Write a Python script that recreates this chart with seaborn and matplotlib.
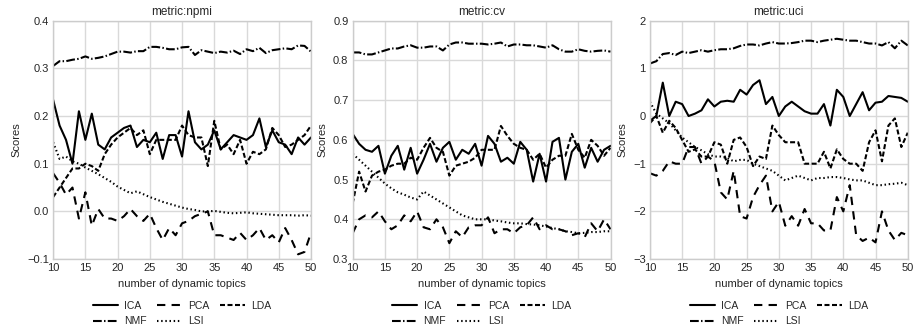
import numpy as np
import pandas as pd
import seaborn as sns
import matplotlib.pyplot as plt

topics = list(range(10, 51))
models = ["ICA", "NMF", "PCA", "LSI", "LDA"]

# metric: npmi
npmi_ica = [0.234, 0.18, 0.15, 0.10, 0.21, 0.15, 0.205, 0.14, 0.13, 0.155, 0.165,
            0.175, 0.18, 0.135, 0.15, 0.145, 0.165, 0.11, 0.16, 0.16, 0.115,
            0.21, 0.145, 0.13, 0.14, 0.17, 0.13, 0.145, 0.16, 0.155, 0.15,
            0.16, 0.195, 0.135, 0.17, 0.145, 0.14, 0.12, 0.155, 0.14, 0.155]
npmi_lda = [0.03, 0.05, 0.07, 0.09, 0.09, 0.10, 0.095, 0.085, 0.12, 0.14, 0.155,
            0.165, 0.175, 0.16, 0.17, 0.12, 0.15, 0.15, 0.15, 0.15, 0.18,
            0.16, 0.155, 0.155, 0.095, 0.19, 0.13, 0.14, 0.12, 0.15, 0.10,
            0.125, 0.12, 0.13, 0.175, 0.16, 0.135, 0.14, 0.15, 0.16, 0.18]
npmi_pca = [0.08, 0.06, 0.035, 0.05, -0.015, 0.04, -0.03, 0.005, -0.015, -0.015, -0.02,
            -0.01, 0.005, -0.01, -0.02, -0.005, -0.035, -0.06, -0.035, -0.05, -0.025,
            -0.02, -0.01, -0.005, 0.0, -0.05, -0.05, -0.055, -0.06, -0.045, -0.06,
            -0.05, -0.035, -0.06, -0.05, -0.065, -0.035, -0.06, -0.09, -0.085, -0.045]
npmi_nmf = [0.305, 0.315, 0.315, 0.318, 0.32, 0.325, 0.32, 0.322, 0.325, 0.33, 0.335,
            0.335, 0.333, 0.336, 0.336, 0.345, 0.345, 0.343, 0.34, 0.34, 0.344,
            0.345, 0.328, 0.338, 0.335, 0.332, 0.335, 0.333, 0.337, 0.33, 0.34,
            0.336, 0.343, 0.332, 0.338, 0.34, 0.342, 0.34, 0.348, 0.347, 0.335]
npmi_lsi = [0.145, 0.11, 0.115, 0.105, 0.10, 0.092, 0.085, 0.078, 0.07, 0.062, 0.052,
            0.045, 0.038, 0.042, 0.036, 0.03, 0.025, 0.02, 0.016, 0.012, 0.008,
            0.005, 0.003, 0.0, 0.0, 0.001, -0.001, -0.003, -0.004, -0.003, -0.002,
            -0.004, -0.005, -0.006, -0.007, -0.008, -0.008, -0.008, -0.009, -0.008, -0.009]

# metric: cv
cv_ica = [0.615, 0.59, 0.575, 0.57, 0.585, 0.515, 0.56, 0.585, 0.525, 0.58, 0.515,
          0.55, 0.59, 0.545, 0.58, 0.595, 0.55, 0.575, 0.565, 0.59, 0.535,
          0.61, 0.59, 0.545, 0.555, 0.54, 0.595, 0.575, 0.495, 0.565, 0.495,
          0.595, 0.605, 0.5, 0.57, 0.59, 0.53, 0.58, 0.545, 0.575, 0.585]
cv_lda = [0.44, 0.52, 0.47, 0.51, 0.52, 0.525, 0.535, 0.54, 0.54, 0.555, 0.55,
          0.58, 0.605, 0.58, 0.57, 0.51, 0.535, 0.54, 0.545, 0.555, 0.575,
          0.575, 0.575, 0.635, 0.61, 0.59, 0.58, 0.575, 0.55, 0.565, 0.53,
          0.55, 0.56, 0.56, 0.615, 0.575, 0.555, 0.6, 0.585, 0.56, 0.58]
cv_pca = [0.365, 0.40, 0.41, 0.405, 0.42, 0.395, 0.375, 0.385, 0.41, 0.395, 0.42,
          0.38, 0.375, 0.40, 0.38, 0.34, 0.37, 0.355, 0.38, 0.385, 0.385,
          0.405, 0.365, 0.375, 0.375, 0.365, 0.38, 0.385, 0.405, 0.375, 0.385,
          0.375, 0.375, 0.37, 0.36, 0.365, 0.355, 0.39, 0.37, 0.40, 0.375]
cv_nmf = [0.82, 0.82, 0.815, 0.815, 0.82, 0.825, 0.83, 0.83, 0.835, 0.838, 0.832,
          0.832, 0.835, 0.835, 0.825, 0.84, 0.845, 0.845, 0.842, 0.842, 0.842,
          0.84, 0.842, 0.845, 0.835, 0.84, 0.84, 0.838, 0.838, 0.835, 0.832,
          0.838, 0.828, 0.822, 0.822, 0.828, 0.824, 0.822, 0.824, 0.825, 0.822]
cv_lsi = [0.565, 0.55, 0.535, 0.52, 0.505, 0.49, 0.478, 0.468, 0.462, 0.455, 0.45,
          0.47, 0.46, 0.45, 0.44, 0.43, 0.42, 0.41, 0.405, 0.40, 0.40,
          0.40, 0.397, 0.395, 0.392, 0.39, 0.39, 0.388, 0.387, 0.385, 0.382,
          0.378, 0.375, 0.37, 0.368, 0.365, 0.366, 0.368, 0.368, 0.37, 0.37]

# metric: uci
uci_ica = [-0.1, 0.0, 0.7, 0.0, 0.3, 0.25, 0.0, 0.05, 0.12, 0.35, 0.2,
           0.3, 0.32, 0.3, 0.55, 0.45, 0.65, 0.75, 0.25, 0.4, 0.0,
           0.2, 0.3, 0.2, 0.1, 0.05, 0.05, 0.25, -0.2, 0.55, 0.4,
           0.0, 0.25, 0.5, 0.12, 0.28, 0.3, 0.42, 0.4, 0.38, 0.3]
uci_lda = [-0.15, 0.0, -0.35, -0.1, -0.25, -0.5, -0.75, -0.7, -0.85, -0.85, -0.55,
           -0.6, -1.0, -0.5, -0.45, -0.65, -1.05, -0.85, -0.9, -0.2, -0.4,
           -0.55, -0.55, -0.55, -1.0, -1.0, -1.0, -0.75, -1.1, -0.7, -0.9,
           -1.0, -1.0, -1.15, -0.55, -0.3, -0.95, -0.2, -0.05, -0.65, -0.35]
uci_pca = [-1.2, -1.25, -1.15, -0.95, -1.0, -1.0, -0.65, -0.65, -1.0, -0.85, -0.95,
           -1.6, -1.75, -1.15, -2.1, -2.15, -1.7, -1.45, -1.25, -2.0, -1.8,
           -2.3, -2.1, -2.3, -1.95, -2.25, -2.25, -2.4, -2.4, -1.7, -2.0,
           -1.45, -2.5, -2.62, -2.55, -2.65, -2.0, -2.4, -2.6, -2.45, -2.5]
uci_nmf = [1.1, 1.15, 1.3, 1.32, 1.28, 1.35, 1.32, 1.35, 1.38, 1.35, 1.38,
           1.4, 1.4, 1.42, 1.47, 1.5, 1.5, 1.48, 1.52, 1.55, 1.52,
           1.52, 1.53, 1.55, 1.58, 1.58, 1.55, 1.58, 1.6, 1.62, 1.6,
           1.58, 1.58, 1.55, 1.52, 1.52, 1.48, 1.55, 1.42, 1.58, 1.48]
uci_lsi = [0.3, 0.05, -0.05, -0.15, -0.3, -0.45, -0.55, -0.65, -0.72, -0.8, -0.85,
           -0.85, -0.88, -0.95, -0.92, -0.92, -1.0, -1.05, -1.1, -1.15, -1.25,
           -1.35, -1.3, -1.25, -1.3, -1.35, -1.3, -1.3, -1.28, -1.28, -1.3,
           -1.33, -1.35, -1.35, -1.4, -1.45, -1.45, -1.43, -1.42, -1.4, -1.45]

metrics = {
    "npmi": {"ICA": npmi_ica, "NMF": npmi_nmf, "PCA": npmi_pca, "LSI": npmi_lsi, "LDA": npmi_lda},
    "cv": {"ICA": cv_ica, "NMF": cv_nmf, "PCA": cv_pca, "LSI": cv_lsi, "LDA": cv_lda},
    "uci": {"ICA": uci_ica, "NMF": uci_nmf, "PCA": uci_pca, "LSI": uci_lsi, "LDA": uci_lda},
}
ylims = {"npmi": (-0.1, 0.4, 0.1), "cv": (0.3, 0.9, 0.1), "uci": (-3, 2, 1)}

dashes = {"ICA": "", "NMF": (4.2, 1.1, 0.7, 1.1), "PCA": (4, 3), "LSI": (0.7, 1.3), "LDA": (2.4, 1.2)}

sns.set_theme(style="whitegrid", rc={
    "axes.edgecolor": ".8", "grid.color": ".85", "axes.linewidth": 1.0,
    "grid.linewidth": 1.0, "xtick.major.size": 0, "ytick.major.size": 0,
})
plt.rcParams["font.family"] = ["Liberation Sans", "DejaVu Sans"]
plt.rcParams["font.size"] = 8

fig = plt.figure(figsize=(9.16, 3.33), dpi=100)
lefts = [0.058, 0.385, 0.7095]

for left, (name, series) in zip(lefts, metrics.items()):
    ax = fig.add_axes([left, 0.222, 0.2815, 0.716])
    df = pd.DataFrame({
        "topics": topics * len(models),
        "score": [v for m in models for v in series[m]],
        "model": [m for m in models for _ in topics],
    })
    sns.lineplot(data=df, x="topics", y="score", style="model", style_order=models,
                 dashes=dashes, color="black", linewidth=1.5, ax=ax)
    lo, hi, step = ylims[name]
    ax.set_xlim(10, 50)
    ax.set_ylim(lo, hi)
    ax.set_xticks(range(10, 51, 5))
    ax.set_yticks(np.arange(lo, hi + step / 2, step))
    ax.tick_params(labelsize=8, colors=".15", pad=3)
    ax.set_title("metric:" + name, fontsize=8.5, color=".15", pad=4)
    ax.set_xlabel("number of dynamic topics", fontsize=8, color=".15", labelpad=4)
    ax.set_ylabel("Scores", fontsize=8, color=".15", labelpad=4)
    sns.move_legend(ax, "upper center", bbox_to_anchor=(0.5, -0.135), ncol=3,
                    title=None, frameon=False, fontsize=7.5, handlelength=2.4,
                    columnspacing=1.0, handletextpad=0.6, labelspacing=0.55)

fig.savefig("out.png", dpi=100)
